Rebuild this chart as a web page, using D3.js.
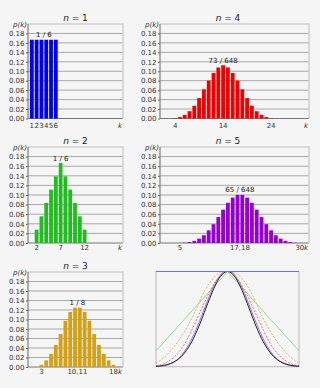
<!DOCTYPE html>
<html>
<head>
<meta charset="utf-8">
<script src="https://cdn.jsdelivr.net/npm/d3@7"></script>
<style>
  body { margin: 0; background: #f5f5f5; }
  svg { display: block; font-family: "DejaVu Sans", sans-serif; }
</style>
</head>
<body>
<script>
// number of dice per panel
const diceN = [1, 2, 3, 4, 5];

// ways to reach each sum k (k starts at n)
const counts1 = [1, 1, 1, 1, 1, 1];
const counts2 = [1, 2, 3, 4, 5, 6, 5, 4, 3, 2, 1];
const counts3 = [1, 3, 6, 10, 15, 21, 25, 27, 27, 25, 21, 15, 10, 6, 3, 1];
const counts4 = [1, 4, 10, 20, 35, 56, 80, 104, 125, 140, 146, 140, 125, 104, 80, 56, 35, 20, 10, 4, 1];
const counts5 = [1, 5, 15, 35, 70, 126, 205, 305, 420, 540, 651, 735, 780, 780, 735, 651, 540, 420, 305, 205, 126, 70, 35, 15, 5, 1];
const allCounts = [counts1, counts2, counts3, counts4, counts5];
const denominators = [6, 36, 216, 1296, 7776];

// peak annotations
const peakLabels = ['1 / 6', '1 / 6', '1 / 8', '73 / 648', '65 / 648'];
const peakK = [3.5, 7, 10.5, 14, 17.5];

// axis ticks
const yTicks = [0, 0.02, 0.04, 0.06, 0.08, 0.10, 0.12, 0.14, 0.16, 0.18];
const xTicks = [[1, 2, 3, 4, 5, 6], [2, 7, 12], [3, 10.5, 18], [4, 14, 24], [5, 17.5, 30]];
const xTickLabels = [['1', '2', '3', '4', '5', '6'], ['2', '7', '12'], ['3', '10,11', '18'], ['4', '14', '24'], ['5', '17,18', '30']];

// comparison panel: normal curve, x = mean of the dice (1..6)
const normalX = [1, 1.25, 1.5, 1.75, 2, 2.25, 2.5, 2.75, 3, 3.25, 3.5, 3.75, 4, 4.25, 4.5, 4.75, 5, 5.25, 5.5, 5.75, 6];
const normalY = [0.005, 0.013, 0.032, 0.072, 0.145, 0.262, 0.424, 0.618, 0.807, 0.948, 1, 0.948, 0.807, 0.618, 0.424, 0.262, 0.145, 0.072, 0.032, 0.013, 0.005];

const barColors = ['#0000ee', '#22bb22', '#d4a017', '#ee0000', '#9400d3'];
const curveColors = ['#6f6fd8', '#90dd90', '#e0b060', '#ee7070', '#a070d8'];
const curveDash = [null, null, '2,1.5', '2,1.5', null];

const W = 320, H = 388;
const svg = d3.select('body').append('svg').attr('width', W).attr('height', H);

// panel frames: left column narrower than right column
const cols = [
  {left: 28, right: 123, kDomain: [0.2, 20], titleX: 75.5},
  {left: 160, right: 309, kDomain: [0.85, 31.9], titleX: 228}
];
const rows = [
  {top: 24, bottom: 118.5, titleY: 20.5, labelDy: 9},
  {top: 147, bottom: 243, titleY: 143.5, labelDy: 7},
  {top: 272, bottom: 367, titleY: 268.5, labelDy: 7}
];
const placement = [[0, 0], [0, 1], [0, 2], [1, 0], [1, 1]];

function drawPanel(i) {
  const col = cols[placement[i][0]], row = rows[placement[i][1]];
  const n = diceN[i];
  const data = allCounts[i].map((c, j) => ({k: n + j, p: c / denominators[i]}));

  const x = d3.scaleLinear().domain(col.kDomain).range([col.left, col.right]);
  const y = d3.scaleLinear().domain([0, 0.2]).range([row.bottom, row.top]);
  const g = svg.append('g');

  // grid
  g.selectAll('line.grid').data(yTicks).join('line')
    .attr('x1', col.left).attr('x2', col.right)
    .attr('y1', d => y(d)).attr('y2', d => y(d))
    .attr('stroke', d => d === 0 ? '#777' : '#a8a8a8')
    .attr('stroke-width', 1);

  // frame top and right
  g.append('path')
    .attr('d', `M${col.left},${y(0.2)}H${col.right}V${y(0)}`)
    .attr('fill', 'none').attr('stroke', '#cfcfcf').attr('stroke-width', 1.5);

  // bars
  const unit = x(1) - x(0);
  g.selectAll('rect').data(data).join('rect')
    .attr('x', d => x(d.k - 0.5) + 0.5)
    .attr('width', unit - 1)
    .attr('y', d => y(d.p))
    .attr('height', d => y(0) - y(d.p))
    .attr('fill', barColors[i]);

  // y axis
  const yAxis = g.append('g')
    .attr('transform', `translate(${col.left},0)`)
    .call(d3.axisLeft(y).tickValues(yTicks).tickFormat(d3.format('.2f')).tickSize(2).tickPadding(1.5));
  yAxis.select('.domain').attr('d', `M0,${y(0)}V${y(0.2)}`).attr('stroke', '#666');
  yAxis.selectAll('.tick line').attr('stroke', '#666');
  yAxis.selectAll('text').attr('font-size', 7).attr('fill', '#333')
    .attr('font-family', '"DejaVu Sans", sans-serif');

  g.append('text')
    .attr('x', col.left - 1).attr('y', y(0.2) + 2.5)
    .attr('text-anchor', 'end').attr('font-size', 7).attr('font-style', 'italic')
    .attr('fill', '#333').text('p(k)');

  // x labels
  g.selectAll('text.xl').data(xTicks[i]).join('text')
    .attr('class', 'xl')
    .attr('x', d => x(d)).attr('y', row.bottom + row.labelDy)
    .attr('text-anchor', 'middle').attr('font-size', 7).attr('fill', '#333')
    .text((d, j) => xTickLabels[i][j]);

  g.append('text')
    .attr('x', col.right - 1).attr('y', row.bottom + row.labelDy)
    .attr('text-anchor', 'end').attr('font-size', 7).attr('font-style', 'italic')
    .attr('fill', '#333').text('k');

  // peak annotation
  const peak = d3.max(data, d => d.p);
  g.append('text')
    .attr('x', x(peakK[i])).attr('y', y(peak) - 2.5)
    .attr('text-anchor', 'middle').attr('font-size', 7).attr('fill', '#222')
    .text(peakLabels[i]);

  // title
  const t = g.append('text')
    .attr('x', col.titleX).attr('y', row.titleY)
    .attr('text-anchor', 'middle').attr('font-size', 9).attr('fill', '#222');
  t.append('tspan').attr('font-style', 'italic').text('n');
  t.append('tspan').text(' = ' + n);
}

diceN.forEach((n, i) => drawPanel(i));

// comparison panel
const cx = d3.scaleLinear().domain([1, 6]).range([156, 299]);
const cy = d3.scaleLinear().domain([0, 1]).range([366.7, 271.5]);
const cg = svg.append('g');

cg.append('path')
  .attr('d', `M${cx(1)},${cy(1)}V${cy(0)}H${cx(6)}V${cy(1)}`)
  .attr('fill', 'none').attr('stroke', '#c4c4c4').attr('stroke-width', 1.2);

const line = d3.line().x(d => cx(d.m)).y(d => cy(d.v));

[1, 2, 3, 4].forEach(i => {
  const n = diceN[i];
  const maxC = d3.max(allCounts[i]);
  const pts = allCounts[i].map((c, j) => ({m: (n + j) / n, v: c / maxC}));
  cg.append('path')
    .datum(pts)
    .attr('d', line.curve(i === 1 ? d3.curveLinear : d3.curveMonotoneX))
    .attr('fill', 'none')
    .attr('stroke', curveColors[i])
    .attr('stroke-width', 1)
    .attr('stroke-dasharray', curveDash[i]);
});

cg.append('path')
  .datum(normalX.map((m, j) => ({m: m, v: normalY[j]})))
  .attr('d', line.curve(d3.curveMonotoneX))
  .attr('fill', 'none').attr('stroke', '#222').attr('stroke-width', 1);

// n = 1 is flat across the top
cg.append('path')
  .datum(counts1.map((c, j) => ({m: 1 + j, v: c / d3.max(counts1)})))
  .attr('d', line.curve(d3.curveLinear))
  .attr('fill', 'none').attr('stroke', curveColors[0]).attr('stroke-width', 1.2);
</script>
</body>
</html>
